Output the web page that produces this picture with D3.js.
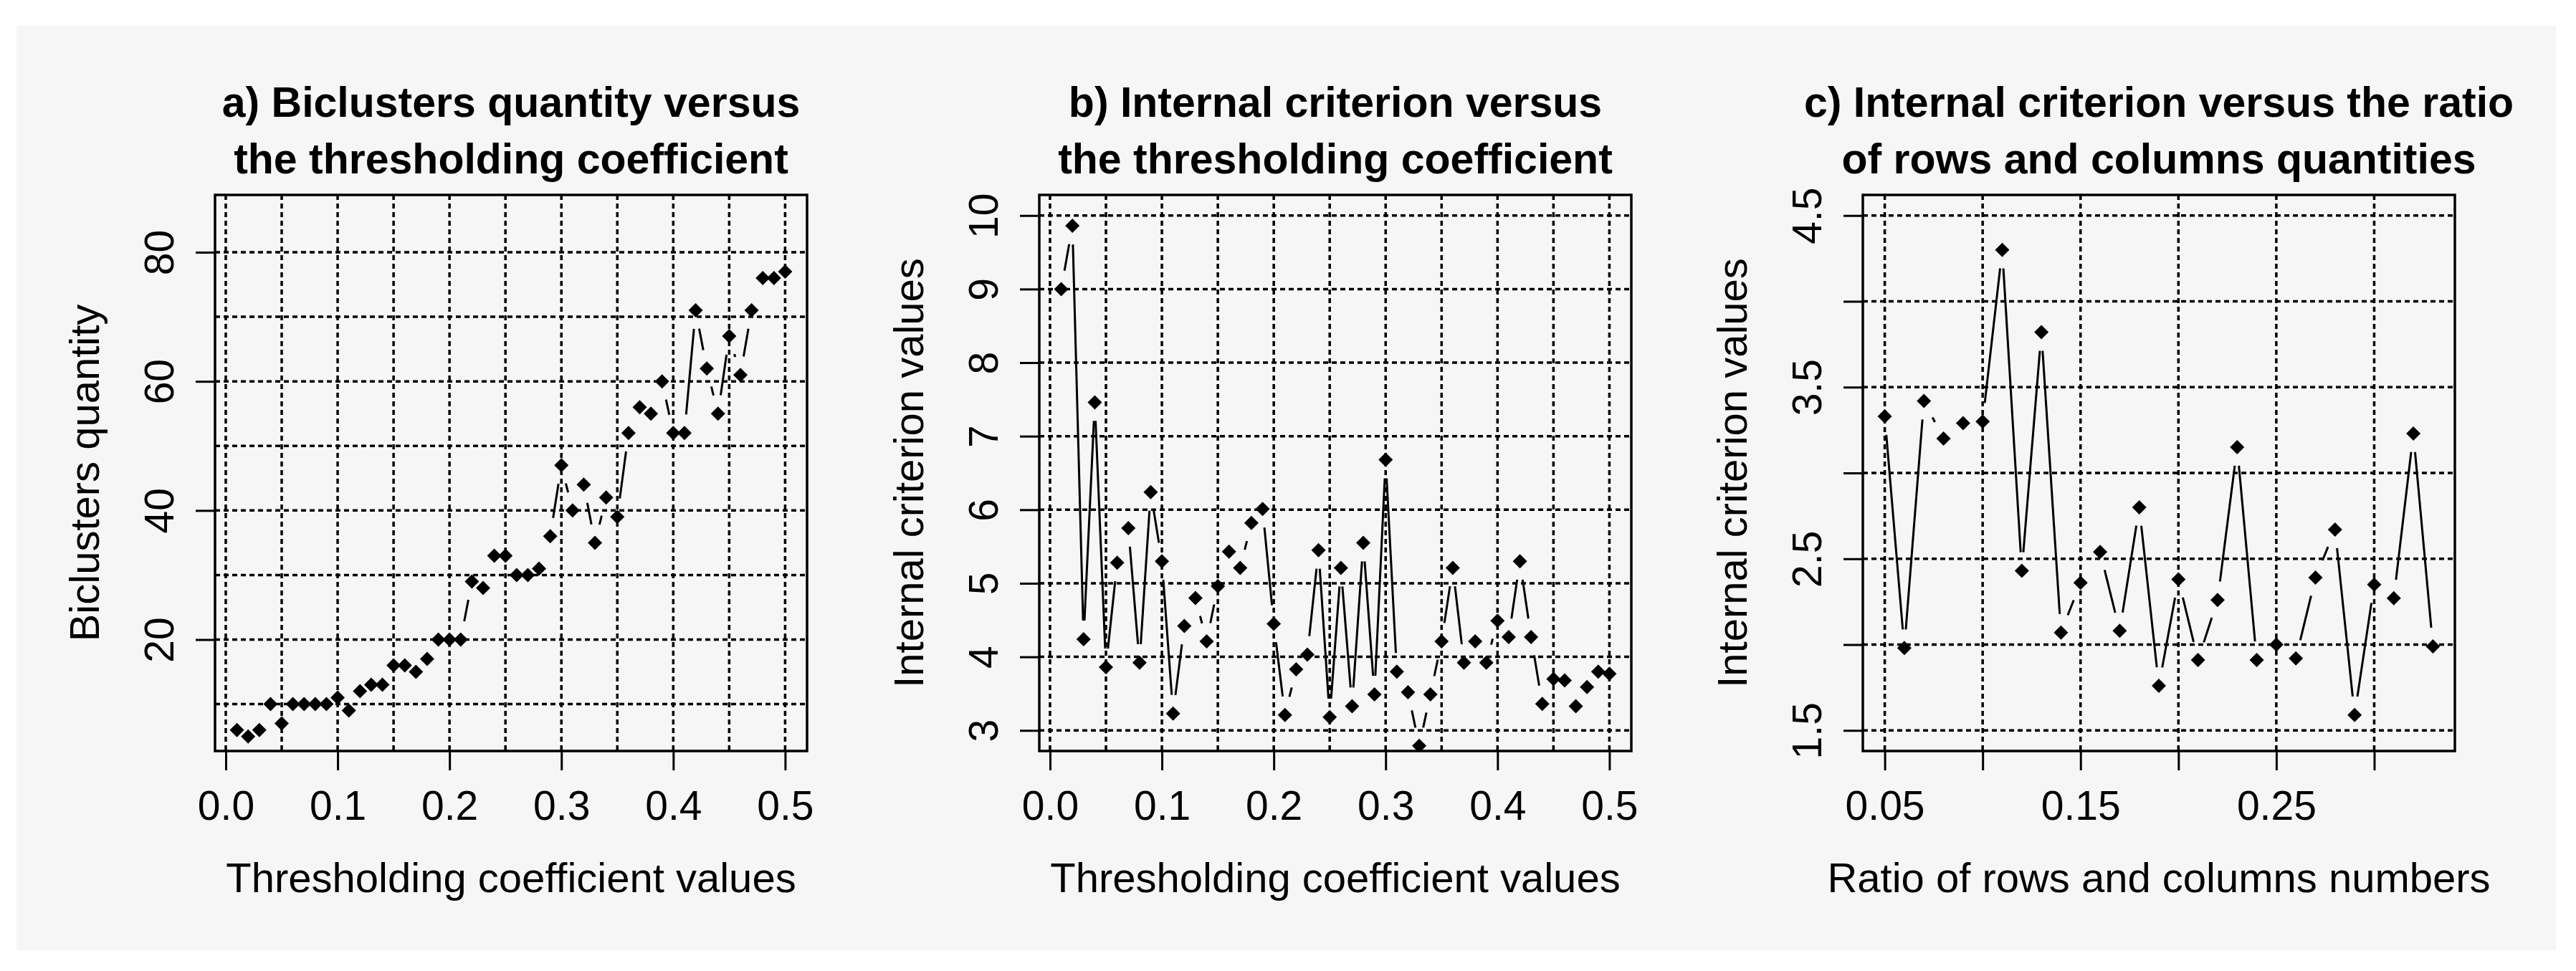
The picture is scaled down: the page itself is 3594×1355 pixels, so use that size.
<!DOCTYPE html>
<html>
<head>
  <meta charset="utf-8">
  <title>Biclusters quantity and internal criterion</title>
  <script src="https://d3js.org/d3.v7.min.js"></script>
  <style>
    body {
      margin: 0;
      background: #ffffff;
      font-family: 'Liberation Sans', Arial, sans-serif;
      color: #000;
    }
    .tick text { font-size: 57px; fill: #000; }
    .tick line { stroke: #000; stroke-width: 3px; }
    .grid { stroke: #000; stroke-width: 3.5px; stroke-dasharray: 7 5; fill: none; }
    .frame { fill: none; stroke: #000; stroke-width: 3.5px; }
    .series { stroke: #000; stroke-width: 3px; fill: none; }
    .title { font-size: 59px; font-weight: bold; text-anchor: middle; }
    .axis-title { font-size: 58px; text-anchor: middle; }
  </style>
</head>
<body>
  <div id="chart"></div>
  <script>
    // thresholding coefficient (panels a and b)
    var thresholds = [0.01, 0.02, 0.03, 0.04, 0.05, 0.06, 0.07, 0.08, 0.09, 0.10,
                      0.11, 0.12, 0.13, 0.14, 0.15, 0.16, 0.17, 0.18, 0.19, 0.20,
                      0.21, 0.22, 0.23, 0.24, 0.25, 0.26, 0.27, 0.28, 0.29, 0.30,
                      0.31, 0.32, 0.33, 0.34, 0.35, 0.36, 0.37, 0.38, 0.39, 0.40,
                      0.41, 0.42, 0.43, 0.44, 0.45, 0.46, 0.47, 0.48, 0.49, 0.50];
    var biclusterCounts = [6, 5, 6, 10, 7, 10, 10, 10, 10, 11,
                           9, 12, 13, 13, 16, 16, 15, 17, 20, 20,
                           20, 29, 28, 33, 33, 30, 30, 31, 36, 47,
                           40, 44, 35, 42, 39, 52, 56, 55, 60, 52,
                           52, 71, 62, 55, 67, 61, 71, 76, 76, 77];
    var criterionByThreshold = [9.00, 9.86, 4.24, 7.46, 3.86, 5.28, 5.75, 3.92, 6.24, 5.30,
                                3.23, 4.42, 4.80, 4.21, 4.96, 5.43, 5.21, 5.82, 6.01, 4.45,
                                3.21, 3.83, 4.03, 5.45, 3.18, 5.21, 3.33, 5.55, 3.49, 6.68,
                                3.80, 3.52, 2.79, 3.49, 4.21, 5.21, 3.92, 4.21, 3.92, 4.49,
                                4.27, 5.30, 4.27, 3.36, 3.70, 3.68, 3.33, 3.59, 3.80, 3.77];
    // ratio of rows and columns (panel c)
    var ratios = [0.05, 0.06, 0.07, 0.08, 0.09, 0.10, 0.11, 0.12, 0.13, 0.14,
                  0.15, 0.16, 0.17, 0.18, 0.19, 0.20, 0.21, 0.22, 0.23, 0.24,
                  0.25, 0.26, 0.27, 0.28, 0.29, 0.30, 0.31, 0.32, 0.33];
    var criterionByRatio = [3.33, 1.98, 3.42, 3.20, 3.29, 3.30, 4.30, 2.43, 3.82, 2.07,
                            2.36, 2.54, 2.08, 2.80, 1.76, 2.38, 1.91, 2.26, 3.15, 1.91,
                            2.00, 1.92, 2.39, 2.67, 1.59, 2.35, 2.27, 3.23, 1.99];

    // ticks, labels and grid positions
    var thresholdTicks = [0, 0.1, 0.2, 0.3, 0.4, 0.5];
    var thresholdGrid = [0, 0.05, 0.1, 0.15, 0.2, 0.25, 0.3, 0.35, 0.4, 0.45, 0.5];
    var countTicks = [20, 40, 60, 80];
    var countGrid = [10, 20, 30, 40, 50, 60, 70, 80];
    var criterionTicks = [3, 4, 5, 6, 7, 8, 9, 10];
    var ratioTicks = [0.05, 0.10, 0.15, 0.20, 0.25, 0.30];
    var ratioLabels = ["0.05", "", "0.15", "", "0.25", ""];
    var ratioCritTicks = [1.5, 2.0, 2.5, 3.0, 3.5, 4.0, 4.5];
    var ratioCritLabels = ["1.5", "", "2.5", "", "3.5", "", "4.5"];

    var panels = [
      {
        title: ["a) Biclusters quantity versus", "the thresholding coefficient"],
        xLabel: "Thresholding coefficient values", yLabel: "Biclusters quantity",
        xs: thresholds, ys: biclusterCounts,
        xDomain: [-0.0096, 0.5196], yDomain: [2.74, 88.88],
        xTicks: thresholdTicks, xFmt: d3.format(".1f"),
        yTicks: countTicks, yFmt: d3.format("d"),
        xGrid: thresholdGrid, yGrid: countGrid
      },
      {
        title: ["b) Internal criterion versus", "the thresholding coefficient"],
        xLabel: "Thresholding coefficient values", yLabel: "Internal criterion values",
        xs: thresholds, ys: criterionByThreshold,
        xDomain: [-0.0096, 0.5196], yDomain: [2.72, 10.28],
        xTicks: thresholdTicks, xFmt: d3.format(".1f"),
        yTicks: criterionTicks, yFmt: d3.format("d"),
        xGrid: thresholdGrid, yGrid: criterionTicks
      },
      {
        title: ["c) Internal criterion versus the ratio", "of rows and columns quantities"],
        xLabel: "Ratio of rows and columns numbers", yLabel: "Internal criterion values",
        xs: ratios, ys: criterionByRatio,
        xDomain: [0.0388, 0.3412], yDomain: [1.38, 4.62],
        xTicks: ratioTicks, xFmt: (d, i) => ratioLabels[i],
        yTicks: ratioCritTicks, yFmt: (d, i) => ratioCritLabels[i],
        xGrid: ratioTicks, yGrid: ratioCritTicks
      }
    ];

    var W = 3594, H = 1355;
    var boxLeft = [300, 1450, 2599], boxW = 826, boxTop = 272, boxH = 776;
    var gap = 26;

    var svg = d3.select("#chart").append("svg")
      .attr("width", W).attr("height", H);

    svg.append("rect")
      .attr("x", 23).attr("y", 36)
      .attr("width", 3543).attr("height", 1290)
      .attr("fill", "#f6f6f6");

    var diamond = {
      draw: function(ctx, size) {
        var r = Math.sqrt(size / 2);
        ctx.moveTo(0, -r); ctx.lineTo(r, 0); ctx.lineTo(0, r); ctx.lineTo(-r, 0); ctx.closePath();
      }
    };

    panels.forEach(function(p, k) {
      var g = svg.append("g")
        .attr("transform", "translate(" + boxLeft[k] + "," + boxTop + ")");

      var x = d3.scaleLinear().domain(p.xDomain).range([0, boxW]);
      var y = d3.scaleLinear().domain(p.yDomain).range([boxH, 0]);

      g.append("clipPath").attr("id", "clip" + k)
        .append("rect").attr("width", boxW).attr("height", boxH);

      // grid
      g.selectAll(".vgrid").data(p.xGrid).enter().append("line")
        .attr("class", "grid")
        .attr("x1", d => x(d)).attr("x2", d => x(d))
        .attr("y1", 0).attr("y2", boxH);
      g.selectAll(".hgrid").data(p.yGrid).enter().append("line")
        .attr("class", "grid")
        .attr("x1", 0).attr("x2", boxW)
        .attr("y1", d => y(d)).attr("y2", d => y(d));

      // axes
      var xAxis = g.append("g")
        .attr("transform", "translate(0," + boxH + ")")
        .call(d3.axisBottom(x).tickValues(p.xTicks).tickFormat(p.xFmt)
          .tickSize(27).tickPadding(29));
      xAxis.select(".domain").remove();
      xAxis.selectAll("text").attr("font-family", "'Liberation Sans', Arial, sans-serif");

      var yAxis = g.append("g")
        .call(d3.axisLeft(y).tickValues(p.yTicks).tickFormat(p.yFmt).tickSize(27));
      yAxis.select(".domain").remove();
      yAxis.selectAll("text")
        .attr("font-family", "'Liberation Sans', Arial, sans-serif")
        .attr("transform", "rotate(-90)")
        .attr("x", 0).attr("y", -58).attr("dy", null)
        .attr("text-anchor", "middle");

      // series: lines with gaps around points (R type = "b")
      var pts = p.xs.map((v, i) => [x(v), y(p.ys[i])]);
      var segs = d3.pairs(pts).filter(s => Math.hypot(s[1][0] - s[0][0], s[1][1] - s[0][1]) > 2 * gap);
      var plot = g.append("g").attr("clip-path", "url(#clip" + k + ")");
      plot.selectAll(".series").data(segs).enter().append("line")
        .attr("class", "series")
        .each(function(s) {
          var dx = s[1][0] - s[0][0], dy = s[1][1] - s[0][1];
          var L = Math.hypot(dx, dy), ux = dx / L, uy = dy / L;
          d3.select(this)
            .attr("x1", s[0][0] + ux * gap).attr("y1", s[0][1] + uy * gap)
            .attr("x2", s[1][0] - ux * gap).attr("y2", s[1][1] - uy * gap);
        });
      plot.selectAll(".pt").data(pts).enter().append("path")
        .attr("class", "pt")
        .attr("transform", d => "translate(" + d[0] + "," + d[1] + ")")
        .attr("d", d3.symbol().type(diamond).size(200))
        .attr("fill", "#000");

      // frame
      g.append("rect").attr("class", "frame")
        .attr("width", boxW).attr("height", boxH);

      // titles
      var t = g.append("text").attr("class", "title").attr("x", boxW / 2);
      t.append("tspan").attr("x", boxW / 2).attr("y", 163 - boxTop).text(p.title[0]);
      t.append("tspan").attr("x", boxW / 2).attr("y", 242 - boxTop).text(p.title[1]);

      g.append("text").attr("class", "axis-title")
        .attr("x", boxW / 2).attr("y", 1245 - boxTop)
        .text(p.xLabel);

      g.append("text").attr("class", "axis-title")
        .attr("transform", "rotate(-90)")
        .attr("x", -boxH / 2).attr("y", -162)
        .text(p.yLabel);
    });
  </script>
</body>
</html>
